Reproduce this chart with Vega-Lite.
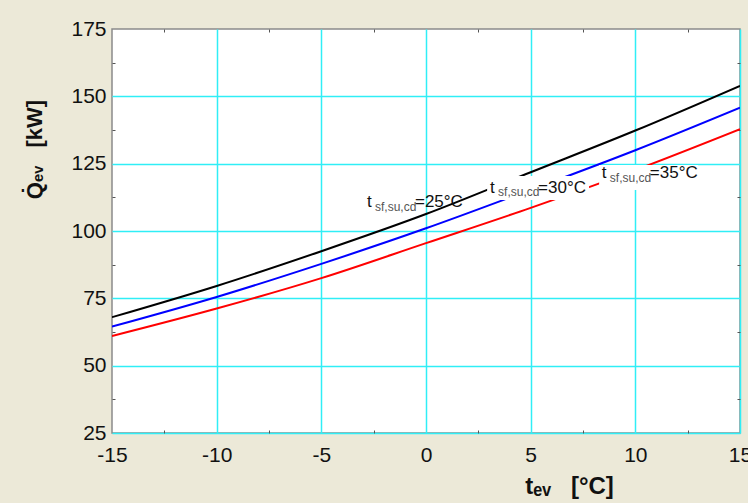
{
  "$schema": "https://vega.github.io/schema/vega-lite/v6.json",
  "width": 628,
  "height": 404,
  "autosize": {"type": "none"},
  "padding": {"left": 112, "top": 29, "right": 8, "bottom": 70},
  "background": "#ECE9D8",
  "config": {
    "view": {"fill": "white", "stroke": "#8a8a8a", "strokeWidth": 1.5},
    "font": "Liberation Sans"
  },
  "datasets": {
    "curves": [
      {"t": -15, "Q": 68.0, "series": "25"},
      {"t": -10, "Q": 79.6, "series": "25"},
      {"t": -5, "Q": 92.5, "series": "25"},
      {"t": 0, "Q": 106.3, "series": "25"},
      {"t": 5, "Q": 121.8, "series": "25"},
      {"t": 10, "Q": 137.3, "series": "25"},
      {"t": 15, "Q": 153.9, "series": "25"},
      {"t": -15, "Q": 64.5, "series": "30"},
      {"t": -10, "Q": 75.5, "series": "30"},
      {"t": -5, "Q": 87.8, "series": "30"},
      {"t": 0, "Q": 101.0, "series": "30"},
      {"t": 5, "Q": 115.3, "series": "30"},
      {"t": 10, "Q": 130.0, "series": "30"},
      {"t": 15, "Q": 145.8, "series": "30"},
      {"t": -15, "Q": 61.0, "series": "35"},
      {"t": -10, "Q": 71.2, "series": "35"},
      {"t": -5, "Q": 82.5, "series": "35"},
      {"t": 0, "Q": 95.5, "series": "35"},
      {"t": 5, "Q": 108.6, "series": "35"},
      {"t": 10, "Q": 122.6, "series": "35"},
      {"t": 15, "Q": 137.8, "series": "35"}
    ],
    "boxes": [
      {"t1": 2.92, "t2": 7.79, "q1": 111.5, "q2": 120.4},
      {"t1": 8.27, "t2": 13.0, "q1": 115.2, "q2": 124.5}
    ],
    "labels": [
      {"t": -2.82, "Q": 108.8, "txt": "=25°C"},
      {"t": 3.06, "Q": 114.2, "txt": "=30°C"},
      {"t": 8.40, "Q": 119.6, "txt": "=35°C"}
    ]
  },
  "layer": [
    {
      "data": {"name": "curves"},
      "mark": {"type": "line", "interpolate": "monotone", "strokeWidth": 2, "clip": true},
      "encoding": {
        "x": {
          "field": "t", "type": "quantitative",
          "scale": {"domain": [-15, 15], "nice": false, "zero": false},
          "axis": {
            "values": [-15, -12.5, -10, -7.5, -5, -2.5, 0, 2.5, 5, 7.5, 10, 12.5, 15],
            "labelExpr": "datum.value % 5 === 0 ? '' + datum.value : ''",
            "labelFont": "Liberation Sans", "labelFontSize": 21, "labelColor": "#111", "labelPadding": 14,
            "labelFlush": false, "labelOverlap": false, "labelBound": false,
            "domain": false,
            "grid": true, "gridColor": "#30eef6", "gridWidth": 1.5,
            "gridOpacity": {"condition": {"test": "datum.value % 5 !== 0 || datum.value === -15", "value": 0}, "value": 1},
            "tickSize": -3, "tickColor": "#555", "tickWidth": 1,
            "tickOpacity": {"condition": {"test": "datum.value % 5 !== 0", "value": 1}, "value": 0},
            "title": "tₑᵥ\u00a0\u00a0\u00a0[°C]", "titleFont": "Liberation Sans", "titleFontSize": 24, "titleFontWeight": "bold", "titleColor": "#111",
            "titleX": 457, "titleY": 60, "titleBaseline": "alphabetic", "titleAlign": "center", "titleAngle": 0
          }
        },
        "y": {
          "field": "Q", "type": "quantitative",
          "scale": {"domain": [25, 175], "nice": false, "zero": false},
          "axis": {
            "values": [25, 37.5, 50, 62.5, 75, 87.5, 100, 112.5, 125, 137.5, 150, 162.5, 175],
            "labelExpr": "datum.value % 25 === 0 ? '' + datum.value : ''",
            "labelFont": "Liberation Sans", "labelFontSize": 21, "labelColor": "#111", "labelPadding": 9,
            "labelFlush": false, "labelOverlap": false, "labelBound": false,
            "domain": false,
            "grid": true, "gridColor": "#30eef6", "gridWidth": 1.5,
            "gridOpacity": {"condition": {"test": "datum.value % 25 !== 0 || datum.value === 175", "value": 0}, "value": 1},
            "tickSize": -3, "tickColor": "#555", "tickWidth": 1,
            "tickOpacity": {"condition": {"test": "datum.value % 25 !== 0", "value": 1}, "value": 0},
            "title": "Q̇ₑᵥ\u00a0\u00a0\u00a0[kW]", "titleFont": "Liberation Sans", "titleFontSize": 22, "titleFontWeight": "bold", "titleColor": "#111",
            "titleX": -71, "titleY": 120, "titleBaseline": "alphabetic", "titleAlign": "center", "titleAngle": -90
          }
        },
        "color": {
          "field": "series", "type": "nominal",
          "scale": {"domain": ["25", "30", "35"], "range": ["#000000", "#0000ff", "#ff0000"]},
          "legend": null
        }
      }
    },
    {
      "data": {"name": "curves"},
      "mark": {"type": "point", "opacity": 0},
      "encoding": {
        "x": {
          "field": "t", "type": "quantitative",
          "axis": {
            "orient": "top",
            "values": [-12.5, -7.5, -2.5, 2.5, 7.5, 12.5],
            "labels": false, "grid": false, "domain": false,
            "tickSize": -3, "tickColor": "#555", "tickWidth": 1, "title": null
          }
        },
        "y": {
          "field": "Q", "type": "quantitative",
          "axis": {
            "orient": "right",
            "values": [37.5, 62.5, 87.5, 112.5, 137.5, 162.5],
            "labels": false, "grid": false, "domain": false,
            "tickSize": -3, "tickColor": "#555", "tickWidth": 1, "title": null
          }
        }
      }
    },
    {
      "data": {"name": "boxes"},
      "mark": {"type": "rect", "fill": "white"},
      "encoding": {
        "x": {"field": "t1", "type": "quantitative", "axis": null},
        "x2": {"field": "t2"},
        "y": {"field": "q1", "type": "quantitative", "axis": null},
        "y2": {"field": "q2"}
      }
    },
    {
      "data": {"name": "labels"},
      "mark": {"type": "text", "align": "left", "baseline": "alphabetic", "font": "Liberation Sans", "fontSize": 17, "color": "#111"},
      "encoding": {
        "x": {"field": "t", "type": "quantitative", "axis": null},
        "y": {"field": "Q", "type": "quantitative", "axis": null},
        "text": {"value": "t"}
      }
    },
    {
      "data": {"name": "labels"},
      "mark": {"type": "text", "align": "left", "baseline": "alphabetic", "font": "Liberation Sans", "fontSize": 12, "color": "#555", "dx": 8, "dy": 3.5},
      "encoding": {
        "x": {"field": "t", "type": "quantitative", "axis": null},
        "y": {"field": "Q", "type": "quantitative", "axis": null},
        "text": {"value": "sf,su,cd"}
      }
    },
    {
      "data": {"name": "labels"},
      "mark": {"type": "text", "align": "left", "baseline": "alphabetic", "font": "Liberation Sans", "fontSize": 17, "color": "#111", "dx": 48},
      "encoding": {
        "x": {"field": "t", "type": "quantitative", "axis": null},
        "y": {"field": "Q", "type": "quantitative", "axis": null},
        "text": {"field": "txt"}
      }
    }
  ],
  "resolve": {"axis": {"x": "independent", "y": "independent"}}
}
